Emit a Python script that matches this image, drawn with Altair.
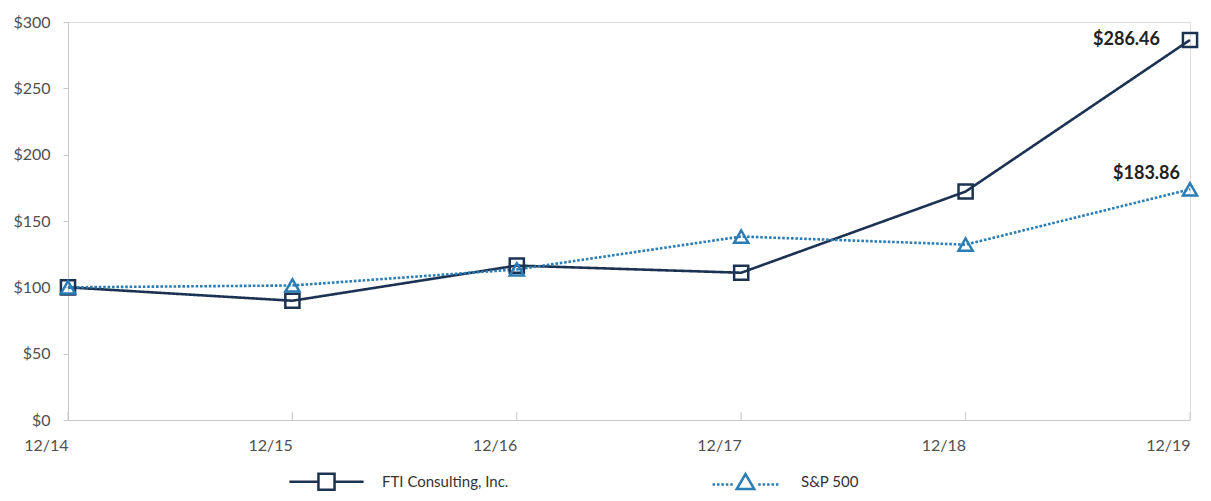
import altair as alt
import pandas as pd

dates = ["12/14", "12/15", "12/16", "12/17", "12/18", "12/19"]
fti_values = [100.0, 89.9, 116.4, 111.0, 172.2, 286.46]
sp_values = [100.0, 101.4, 113.5, 138.3, 132.2, 173.86]
series_names = ["FTI Consulting, Inc.", "S&P 500"]
y_ticks = [0, 50, 100, 150, 200, 250, 300]
end_labels = ["$286.46", "$183.86"]

rows = []
for d, v in zip(dates, fti_values):
    rows.append({"date": d, "value": v, "series": series_names[0]})
for d, v in zip(dates, sp_values):
    rows.append({"date": d, "value": v, "series": series_names[1]})
df = pd.DataFrame(rows)

lab_df = pd.DataFrame({
    "date": [dates[-1], dates[-1]],
    "value": [fti_values[-1], sp_values[-1]],
    "label": end_labels,
    "series": series_names,
})

W, H = 1122, 398
FONT = "Lato"
NAVY = "#1c3253"
BLUE = "#2a7db5"
AXIS_GRAY = "#c8c8c8"
LABEL_GRAY = "#505050"

# legend glyphs: line + marker (units scale with sqrt(size)/2)
FTI_PATH = "M-5.3,0H-1.15M1.15,0H5.3M-1.15,-1.15H1.15V1.15H-1.15Z"
SP_PATH = ("M-4.7,0.3h0.36M-4.07,0.3h0.36M-3.44,0.3h0.36M-2.81,0.3h0.36M-2.18,0.3h0.36"
           "M1.82,0.3h0.36M2.45,0.3h0.36M3.08,0.3h0.36M3.71,0.3h0.36M4.34,0.3h0.36"
           "M0,-1.2L1.25,0.95H-1.25Z")

x_enc = alt.X("date:N", sort=dates, scale=alt.Scale(type="point", padding=0),
              axis=alt.Axis(title=None, labelAngle=0, ticks=False, domainColor=AXIS_GRAY,
                            labelFont=FONT, labelFontSize=16, labelColor=LABEL_GRAY,
                            labelPadding=25))
y_enc = alt.Y("value:Q", scale=alt.Scale(domain=[0, 300], nice=False),
              axis=alt.Axis(title=None, values=y_ticks, grid=False, labelExpr="'$' + datum.value",
                            domainColor=AXIS_GRAY, tickColor=AXIS_GRAY, tickSize=5,
                            labelFont=FONT, labelFontSize=16, labelColor=LABEL_GRAY,
                            labelPadding=13))

color_scale = alt.Scale(domain=series_names, range=[NAVY, BLUE])

legend = alt.Legend(
    title=None, orient="none", legendX=250, legendY=451, direction="horizontal",
    symbolSize=196, symbolStrokeWidth=2.5, labelOffset=47, columnPadding=198,
    labelFont=FONT, labelFontSize=15, labelColor="#333333",
)

lines = alt.Chart(df).mark_line(strokeWidth=2.6).encode(
    x=x_enc, y=y_enc,
    color=alt.Color("series:N", scale=color_scale, legend=None),
    strokeDash=alt.StrokeDash("series:N", scale=alt.Scale(domain=series_names, range=[[1, 0], [2.6, 1.8]]), legend=None),
)

points = alt.Chart(df).mark_point(filled=False, size=200, strokeWidth=2.5, opacity=1).encode(
    x=x_enc, y=y_enc,
    color=alt.Color("series:N", scale=color_scale, legend=None),
    shape=alt.Shape("series:N", scale=alt.Scale(domain=series_names, range=["square", "triangle-up"]), legend=None),
)

# layer that only carries the legend (no rows drawn)
legend_layer = alt.Chart(df).transform_filter("false").mark_point(filled=False, strokeWidth=2.5, opacity=1).encode(
    x=x_enc, y=y_enc,
    color=alt.Color("series:N", scale=color_scale, legend=legend),
    shape=alt.Shape("series:N", scale=alt.Scale(domain=series_names, range=[FTI_PATH, SP_PATH]), legend=legend),
)

ticks = alt.Chart(pd.DataFrame({"date": dates})).mark_rule(color=AXIS_GRAY, strokeWidth=1).encode(
    x=alt.X("date:N", sort=dates), y=alt.value(H - 8), y2=alt.value(H),
)

lab1 = alt.Chart(lab_df.iloc[[0]]).mark_text(
    align="right", baseline="middle", dx=-30, dy=0, font=FONT, fontSize=18, fontWeight="bold", color="#222222"
).encode(x=alt.X("date:N", sort=dates), y="value:Q", text="label:N")

lab2 = alt.Chart(lab_df.iloc[[1]]).mark_text(
    align="right", baseline="middle", dx=-10, dy=-15, font=FONT, fontSize=18, fontWeight="bold", color="#222222"
).encode(x=alt.X("date:N", sort=dates), y="value:Q", text="label:N")

chart = alt.layer(ticks, lines, points, legend_layer, lab1, lab2).resolve_scale(
    shape="independent", color="independent"
).properties(
    width=W, height=H,
    autosize=alt.AutoSizeParams(type="none"),
    padding={"left": 60, "top": 14, "right": 13, "bottom": 73},
).configure_view(stroke=None).configure(background="#ffffff")

chart.save("out.html", embed_options={"renderer": "svg", "actions": False})
